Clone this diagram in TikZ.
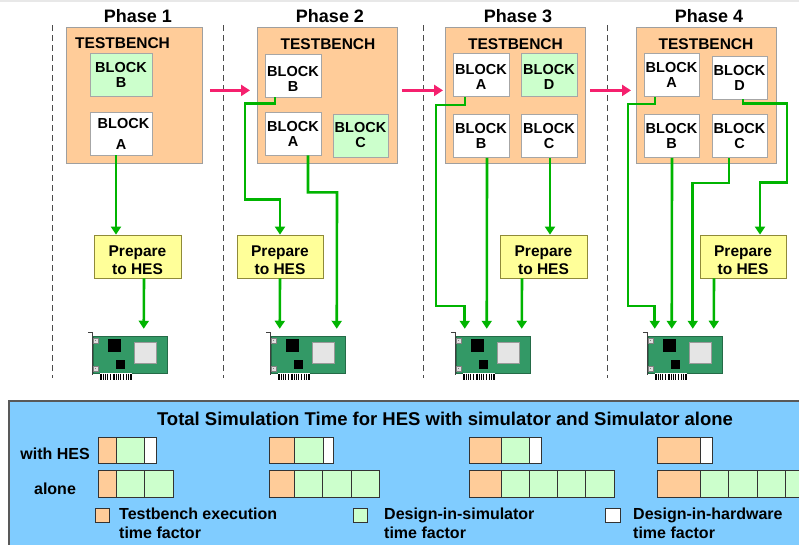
\documentclass[tikz,border=0pt]{standalone}
\usepackage{fontspec}
\setmainfont{Liberation Sans}
\usetikzlibrary{arrows.meta,calc}

\definecolor{benchfill}{HTML}{FFCC99}
\definecolor{simfill}{HTML}{CCFFCC}
\definecolor{prepfill}{HTML}{FFFF99}
\definecolor{panelfill}{HTML}{80CCFF}
\definecolor{wiregreen}{HTML}{00B400}
\definecolor{phasepink}{HTML}{F5206E}
\definecolor{boardgreen}{HTML}{339966}

% extra head room that lowers the first text line inside a box
\newcommand{\toproom}[1]{\rule{0pt}{#1}}

\tikzset{
  phaselabel/.style={font=\bfseries\fontsize{18}{20}\selectfont, inner sep=0},
  bench/.style={draw=gray!75, line width=0.8pt, fill=benchfill, anchor=north west,
    inner sep=0, minimum width=140, minimum height=136},
  benchlabel/.style={font=\bfseries\fontsize{15.5}{17}\selectfont, inner sep=0},
  blockbox/.style={draw=gray!70, line width=0.8pt, fill=white, inner sep=0,
    minimum width=56, minimum height=43, align=center,
    font=\bfseries\fontsize{14.5}{15}\selectfont},
  simblock/.style={blockbox, fill=simfill},
  prepbox/.style={draw=olive!60!gray, line width=0.8pt, fill=prepfill, inner sep=0,
    minimum width=87, minimum height=43, align=center,
    font=\bfseries\fontsize{15.5}{18}\selectfont},
  wire/.style={draw=wiregreen, line width=2.6pt, line join=miter},
  wirearrow/.style={wire, -{Triangle[width=10pt,length=8pt]}},
  phasearrow/.style={draw=phasepink, line width=3pt, -{Triangle[width=11pt,length=9pt]}},
  divider/.style={draw=black!70, line width=1pt, dash pattern=on 6pt off 4pt},
  board/.style={draw=boardgreen!70!black, line width=0.5pt, fill=boardgreen,
    inner sep=0, minimum width=74, minimum height=37},
  bartext/.style={font=\bfseries\fontsize{16}{19}\selectfont, inner sep=0},
  legendtext/.style={bartext, align=left, anchor=west},
  tbseg/.style={draw=black!80, line width=1pt, fill=benchfill},
  simseg/.style={draw=black!80, line width=1pt, fill=simfill},
  hwseg/.style={draw=black!80, line width=1pt, fill=white},
  card/.pic={
    % mounting bracket
    \draw[black!75, line width=1pt] (-5,-4) -- (-1,-4) -- (-1,39);
    % circuit board
    \node[board] (-board) at (37,18.5) {};
    % bracket screws
    \foreach \sy in {2,30}{
      \draw[gray, fill=gray!25, line width=0.5pt] (0.5,\sy) rectangle (5,\sy+5);
      \fill[gray] (2.2,\sy+1.8) rectangle (3.3,\sy+3.2);
    }
    % chips
    \fill[black] (15,3) rectangle (28,16);
    \fill[black] (23,24) rectangle (32,33);
    \draw[gray!80, fill=gray!20, line width=0.8pt] (41,6) rectangle (63,27);
    % edge connector
    \fill[white] (7,37) rectangle (39,43.5);
    \foreach \bx in {8,10.3,12.6,14.9,17.2,21,23.3,25.6,27.9,30.2,33.5,35.8,38}
      \draw[black, line width=1.1pt] (\bx,37.5) -- (\bx,43.5);
  }
}

\begin{document}
\begin{tikzpicture}[x=1pt, y=-1pt]
\useasboundingbox (0,0) rectangle (799,544);
\begin{scope}
\clip (0,0) rectangle (799,544);

% thin band along the top edge
\fill[gray!18] (0,0) rectangle (799,2);

% phase headings
\node[phaselabel] (h1) at (138,16) {Phase 1};
\node[phaselabel] (h2) at (330,16) {Phase 2};
\node[phaselabel] (h3) at (518,16) {Phase 3};
\node[phaselabel] (h4) at (709,16) {Phase 4};

% phase dividers
\foreach \dx in {52,223,423,607}
  \draw[divider] (\dx,25) -- (\dx,378);

% testbenches
\node[bench, minimum width=136] (tb1) at (66,27) {};
\node[bench] (tb2) at (257,27) {};
\node[bench] (tb3) at (445,27) {};
\node[bench] (tb4) at (636,27) {};
\node[benchlabel, anchor=west] (tl1) at (75,43) {TESTBENCH};
\node[benchlabel] (tl2) at (328,44) {TESTBENCH};
\node[benchlabel] (tl3) at (515.5,44) {TESTBENCH};
\node[benchlabel] (tl4) at (706,44) {TESTBENCH};

% blocks, phase 1
\node[simblock, minimum width=62] (p1b) at (121,74.5) {BLOCK\\B};
\node[blockbox, minimum width=62] (p1a) at (121,133.5) {\hspace*{5pt}BLOCK\\[6pt]A};
% blocks, phase 2
\node[blockbox] (p2b) at (293,75.5) {\toproom{17pt}BLOCK\\B};
\node[blockbox] (p2a) at (293,133.5) {BLOCK\\A};
\node[simblock, minimum width=55] (p2c) at (360.5,135.5) {BLOCK\\C};
% blocks, phase 3
\node[blockbox] (p3a) at (481,75) {\toproom{13pt}BLOCK\\A};
\node[simblock] (p3d) at (549,75) {\toproom{13pt}BLOCK\\D};
\node[blockbox] (p3b) at (481,136) {BLOCK\\B};
\node[blockbox] (p3c) at (549,136) {BLOCK\\C};
% blocks, phase 4
\node[blockbox, minimum width=55] (p4a) at (671.5,75) {BLOCK\\A};
\node[blockbox, minimum width=55] (p4d) at (739.5,77.5) {BLOCK\\D};
\node[blockbox, minimum width=55] (p4b) at (671.5,136) {BLOCK\\B};
\node[blockbox, minimum width=55] (p4c) at (739.5,136) {BLOCK\\C};

% phase-to-phase arrows
\draw[phasearrow] ([xshift=7pt,yshift=5pt]tb1.east) -- ([xshift=-7pt,yshift=5pt]tb2.west);
\draw[phasearrow] ([xshift=4pt,yshift=5pt]tb2.east) -- ([xshift=-2pt,yshift=5pt]tb3.west);
\draw[phasearrow] ([xshift=4pt,yshift=5pt]tb3.east) -- ([xshift=-5pt,yshift=5pt]tb4.west);

% preparation steps
\node[prepbox] (prep1) at (137.5,256.5) {\toproom{18pt}Prepare\\to HES};
\node[prepbox, minimum width=86] (prep2) at (280,256.5) {\toproom{18pt}Prepare\\to HES};
\node[prepbox] (prep3) at (543.5,256.5) {\toproom{18pt}Prepare\\to HES};
\node[prepbox, minimum width=86] (prep4) at (743,256.5) {\toproom{18pt}Prepare\\to HES};

% hardware boards
\pic (c1) at (93,336) {card};
\pic (c2) at (271,336) {card};
\pic (c3) at (456,336) {card};
\pic (c4) at (648,336) {card};

% phase 1 wiring
\draw[wirearrow] ([xshift=-5pt]p1a.south) -- ([xshift=-5pt]p1a.south |- prep1.north);
\draw[wirearrow] ([xshift=6.5pt]prep1.south) -- ([shift={(51,-7)}]c1-board.north west);

% phase 2 wiring
\draw[wirearrow] ([xshift=-18pt]p2b.south) -- ++(0,6) -| ++(-30,96) -| (prep2.north);
\draw[wirearrow] (prep2.south) -- ([shift={(9,-7)}]c2-board.north west);
\draw[wirearrow] ([xshift=15pt]p2a.south) |- ++(29,37) -- ([shift={(66,-7)}]c2-board.north west);

% phase 3 wiring
\draw[wirearrow] ([xshift=-16pt]p3a.south) -- ++(0,8) -| ++(-29,201) -| ([shift={(9,-7)}]c3-board.north west);
\draw[wirearrow] ([xshift=6pt]p3b.south) -- ([shift={(31,-7)}]c3-board.north west);
\draw[wirearrow] ([xshift=1pt]p3c.south) -- ([xshift=1pt]p3c.south |- prep3.north);
\draw[wirearrow] ([xshift=-21.5pt]prep3.south) -- ([shift={(66,-7)}]c3-board.north west);

% phase 4 wiring
\draw[wirearrow] ([xshift=-16.5pt]p4a.south) -- ++(0,7) -| ++(-27,202) -| ([shift={(7,-7)}]c4-board.north west);
\draw[wirearrow] ([xshift=0.5pt]p4b.south) -- ([shift={(24,-7)}]c4-board.north west);
\draw[wirearrow] ([xshift=-10.5pt]p4c.south) -- ++(0,25) -| ([shift={(45,-7)}]c4-board.north west);
\draw[wirearrow] ([xshift=3.5pt]p4d.south) -- ++(0,4) -| ++(44,79) -| ([xshift=17pt]prep4.north);
\draw[wirearrow] ([xshift=-29pt]prep4.south) -- ([shift={(66,-7)}]c4-board.north west);

% simulation time panel
\draw[fill=panelfill, draw=black!65, line width=1.5pt] (9,401) rectangle (810,560);
\node[bartext, font=\bfseries\fontsize{18.5}{21}\selectfont] (title) at (445,419)
  {Total Simulation Time for HES with simulator and Simulator alone};
\node[bartext, anchor=east] (rowhes) at (90,454) {with HES};
\node[bartext] (rowalone) at (55,489) {alone};

% phase 1 bars
\draw[tbseg] (98,437) rectangle (116,463);
\draw[simseg] (116,437) rectangle (144,463);
\draw[hwseg] (144,437) rectangle (156,463);
\draw[tbseg] (98,470) rectangle (116,497);
\draw[simseg] (116,470) rectangle (144,497);
\draw[simseg] (144,470) rectangle (173,497);

% phase 2 bars
\draw[tbseg] (269,437) rectangle (294,463);
\draw[simseg] (294,437) rectangle (323,463);
\draw[hwseg] (323,437) rectangle (333,463);
\draw[tbseg] (269,470) rectangle (294,497);
\foreach \sx in {294,322.5,351}
  \draw[simseg] (\sx,470) rectangle (\sx+28.5,497);

% phase 3 bars
\draw[tbseg] (469,437) rectangle (501,463);
\draw[simseg] (501,437) rectangle (529,463);
\draw[hwseg] (529,437) rectangle (541,463);
\draw[tbseg] (469,470) rectangle (501,497);
\foreach \sx in {501,529.25,557.5,585.75}
  \draw[simseg] (\sx,470) rectangle (\sx+28.25,497);

% phase 4 bars
\draw[tbseg] (657,437) rectangle (700,463);
\draw[hwseg] (700,437) rectangle (712,463);
\draw[tbseg] (657,470) rectangle (700,497);
\foreach \sx in {700,728.5,757,785.5}
  \draw[simseg] (\sx,470) rectangle (\sx+28.5,497);

% legend
\draw[tbseg] (95,508) rectangle (109,522);
\node[legendtext] (lg1) at (119,523.5) {Testbench execution\\time factor};
\draw[simseg] (353,508) rectangle (367,522);
\node[legendtext] (lg2) at (384,523.5) {Design-in-simulator\\time factor};
\draw[hwseg] (605,508) rectangle (620,522);
\node[legendtext] (lg3) at (633,523.5) {Design-in-hardware\\time factor};
\end{scope}
\end{tikzpicture}
\end{document}
